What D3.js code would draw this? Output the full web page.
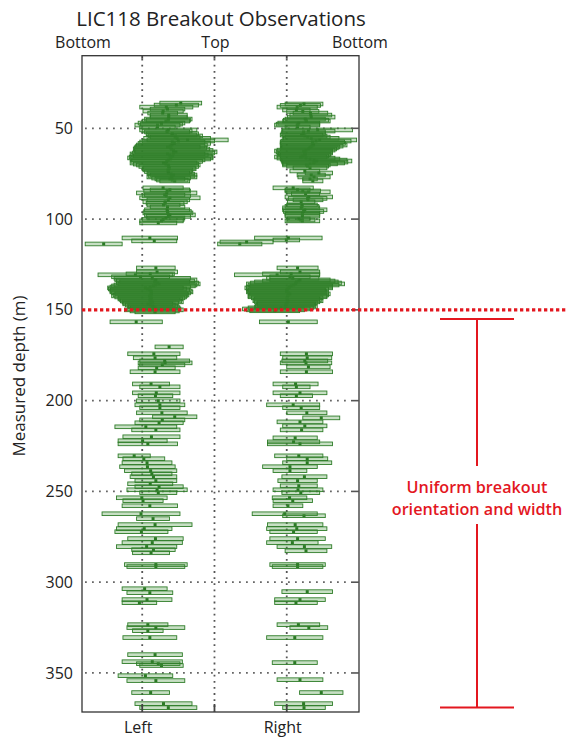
<!DOCTYPE html>
<html>
<head>
<meta charset="utf-8">
<script src="https://cdn.jsdelivr.net/npm/d3@7"></script>
<style>
  html, body { margin: 0; padding: 0; background: #fff; }
  svg { display: block; font-family: "Open Sans", "Noto Sans", sans-serif; }
</style>
</head>
<body>
<svg id="chart" width="566" height="738"></svg>
<script>
// Breakout picks: [depth (m), start azimuth (deg), end azimuth (deg)]
const leftBreakouts = [
  [36.1,112,164],[37.2,105,160],[38.3,87,153],[39.4,100,143],[40.5,91,141],[41.6,97,134],[42.7,100,146],
  [43.8,100,146],[44.9,93,152],[45.5,95,150],[46.0,90,149],[47.1,85,143],[47.7,88,140],[48.2,81,137],[49.3,87,131],
  [50.9,87,158],[51.5,90,152],[52.0,93,149],[53.0,95,160],[53.7,96,158],[54.2,98,165],[54.8,100,162],
  [55.5,92,175],[56.4,96,197],[57.0,90,180],[57.5,87,168],[58.3,85,175],[59.2,83,171],[59.8,82,168],
  [60.3,81,162],[60.8,80,170],[61.4,79,174],[62.2,80,178],[63.0,81,183],[63.6,78,180],[64.1,75,168],
  [64.7,76,172],[65.2,79,177],[65.8,74,178],[66.3,72,178],[66.9,75,175],[67.4,77,168],[68.2,76,165],
  [69.1,75,158],[69.7,79,160],[70.2,83,162],[71.0,86,160],[71.8,91,156],[72.3,90,157],[72.9,91,153],
  [73.8,93,152],[74.6,96,149],[75.2,97,155],[75.7,100,158],[76.3,98,155],[76.8,96,158],[77.4,102,150],
  [77.9,106,143],[78.5,108,147],[79.0,112,149],
  [82.8,91,141],[83.9,100,149],[84.5,92,150],[85.6,83,158],[86.7,93,143],[87.2,90,150],[88.3,87,162],
  [89.4,96,149],[90.5,91,146],[91.3,95,142],[92.2,96,137],[93.3,100,143],[94.9,93,149],[95.8,92,151],
  [96.6,91,153],[97.7,93,156],[98.5,95,150],[99.4,96,143],[100.2,90,142],[101.0,87,141],[102.1,87,133],
  [110.4,65,134],[112.0,77,133],[113.7,19,65],
  [126.9,83,131],[129.1,83,134],[130.2,70,130],[130.7,35,128],[131.8,52,124],[132.6,55,150],[133.5,56,158],
  [134.1,58,155],[134.6,62,149],[135.2,58,160],[135.7,60,162],[136.3,55,158],[136.8,52,156],[137.4,50,150],
  [137.9,47,141],[138.5,48,145],[139.0,50,149],[139.6,50,152],[140.1,50,153],[140.7,52,150],[141.2,56,147],
  [141.8,54,148],[142.3,52,146],[142.9,56,145],[143.4,60,143],[144.0,60,140],[144.5,62,137],[145.1,63,139],
  [145.6,65,141],[146.2,66,135],[146.7,66,128],[147.3,69,131],[147.8,72,134],[148.4,73,136],[148.9,75,137],
  [149.5,72,138],[150.0,68,141],[150.6,75,136],[151.1,81,131],[156.6,50,115],
  [170.4,106,141],[174.2,72,137],[176.4,79,133],[178.1,87,149],[179.2,85,152],[180.3,87,143],
  [181.9,85,131],[184.1,75,137],[190.8,78,124],[192.4,87,137],[195.7,78,137],[197.3,85,128],
  [200.1,83,137],[202.3,81,143],[203.9,87,137],[206.7,83,146],[208.9,103,158],[210.6,87,143],
  [212.2,81,141],[214.4,56,133],[216.1,77,137],[219.9,66,137],[222.1,60,121],[223.8,60,134],
  [230.4,60,100],[232.0,66,118],[234.2,65,127],[236.4,62,131],[238.6,68,133],[240.3,77,127],
  [241.9,75,133],[244.1,81,133],[245.8,72,128],[247.4,81,141],[249.1,71,146],[250.7,87,133],
  [253.5,58,121],[255.1,66,116],[257.9,65,134],[262.3,40,137],[265.0,83,124],[268.3,60,152],
  [270.5,58,127],[272.2,56,122],[276.0,72,141],[278.2,65,140],[280.4,58,133],[282.1,77,131],
  [283.8,78,124],[290.3,68,146],[291.4,71,143],
  [303.6,65,121],[305.8,71,128],[309.6,65,127],[311.3,65,108],[323.4,72,122],[325.0,71,143],
  [326.7,78,116],[330.5,66,133],[339.9,72,140],[343.8,65,140],[344.9,83,137],[345.9,87,141],
  [351.5,60,128],[354.2,71,143],[360.8,77,124],[366.9,81,152],[369.1,87,158]
];

const rightBreakouts = [
  [36.6,268,315],[37.4,262,312],[38.3,258,308],[39.9,265,299],[40.7,270,310],[41.6,278,321],[42.7,274,326],
  [43.8,271,330],[44.9,268,318],[45.5,266,322],[46.0,265,324],[47.1,259,311],[47.7,257,311],[48.2,255,311],
  [49.3,268,299],
  [50.9,265,352],[51.5,264,330],[52.0,264,318],[53.0,263,318],[53.7,262,315],[54.2,265,320],[54.8,268,324],
  [55.5,266,335],[56.4,265,357],[57.0,263,350],[57.5,262,342],[58.3,262,343],[59.2,262,345],[59.8,263,340],
  [60.3,264,336],[60.8,263,334],[61.4,262,332],[62.0,258,330],[62.5,255,327],[63.0,257,327],[63.6,259,327],
  [64.2,260,325],[64.7,262,324],[65.3,258,322],[65.8,255,320],[66.4,258,330],[66.9,262,336],[67.5,263,345],
  [68.0,264,351],[68.6,264,346],[69.1,265,342],[69.6,265,333],[70.2,265,324],[70.8,270,322],[71.8,278,320],
  [73.5,274,311],[74.6,293,327],[75.7,283,318],[76.8,284,324],[77.9,290,308],[79.0,290,315],
  [82.8,253,303],[83.9,268,299],[84.5,268,312],[85.0,270,324],[86.1,276,311],[87.8,268,327],[88.6,272,320],
  [89.4,278,315],[90.5,271,305],[92.2,270,308],[93.0,268,310],[93.8,265,311],[94.9,265,320],[95.8,266,316],
  [96.6,268,311],[97.4,268,311],[98.3,268,311],[99.9,271,299],[100.5,270,305],[101.0,268,311],
  [110.4,230,314],[111.5,253,286],[112.6,187,253],[113.7,184,239],
  [126.9,258,309],[129.1,262,311],[130.2,240,311],[130.7,205,311],[131.8,249,299],[132.6,245,310],
  [133.5,249,324],[134.1,240,330],[134.6,230,334],[135.2,225,338],[135.7,220,342],[136.3,222,335],
  [136.8,224,327],[137.4,220,327],[137.9,218,327],[138.5,220,322],[139.0,222,318],[139.6,221,319],
  [140.1,220,320],[140.7,222,322],[141.2,224,324],[141.8,223,322],[142.3,222,320],[142.8,222,320],
  [143.4,226,315],[143.9,230,311],[144.5,229,313],[145.0,228,315],[145.6,230,311],[146.1,233,308],
  [146.7,233,306],[147.2,233,305],[147.8,231,306],[148.4,230,308],[148.9,222,303],[149.5,215,299],
  [150.0,220,292],[150.5,224,286],[156.6,236,308],
  [174.2,262,327],[176.4,265,326],[178.1,264,321],[179.2,262,326],[181.4,270,324],[184.1,262,327],
  [190.8,253,309],[192.4,265,299],[195.7,253,320],[197.3,262,302],[202.3,245,311],[203.9,265,311],
  [206.7,270,320],[209.5,290,336],[211.7,258,315],[213.9,265,320],[216.1,262,315],[220.5,253,308],
  [222.7,246,311],[223.8,246,327],
  [230.4,255,315],[232.0,270,321],[234.2,265,326],[236.4,240,308],[238.6,253,295],[241.9,264,320],
  [244.1,259,308],[246.9,262,308],[249.1,253,315],[250.7,264,311],[253.5,252,295],[255.1,253,302],
  [257.9,253,290],[262.3,227,308],[263.4,265,318],[268.3,246,315],[270.5,245,320],[272.2,249,308],
  [276.0,249,318],[278.2,245,309],[280.4,258,326],[282.7,268,320],[290.3,249,318],[291.4,252,315],
  [305.2,264,327],[309.6,255,318],[311.3,255,308],[323.4,258,311],[325.0,274,321],[330.5,245,315],
  [344.3,252,308],[353.7,258,315],[360.8,286,340],[366.9,255,327],[369.1,265,318]
];

// Axis definitions
const depthDomain = [10, 371.5];
const depthTicks = [50, 100, 150, 200, 250, 300, 350];
const azimuthDomain = [15, 360];
const azimuthTicks = [90, 180, 270];
const topLabels = [[15, "Bottom"], [180, "Top"], [360, "Bottom"]];
const bottomLabels = [[90, "Left"], [270, "Right"]];

// Annotation: depth of the boundary line and the bracketed interval
const boundaryDepth = 150;
const uniformInterval = [155, 369];
const uniformText = ["Uniform breakout", "orientation and width"];

const svg = d3.select("#chart");
const M = { left: 82, right: 359, top: 55.7, bottom: 712 };

const x = d3.scaleLinear().domain(azimuthDomain).range([M.left, M.right]);
const y = d3.scaleLinear().domain(depthDomain).range([M.top, M.bottom]);

// Title
svg.append("text")
  .attr("x", 221).attr("y", 25.5)
  .attr("text-anchor", "middle")
  .attr("font-size", 20.5)
  .attr("fill", "#222")
  .text("LIC118 Breakout Observations");

// Top orientation labels
svg.append("g").selectAll("text").data(topLabels).join("text")
  .attr("x", d => x(d[0]) + 1)
  .attr("y", 47.5)
  .attr("text-anchor", "middle")
  .attr("font-size", 16)
  .attr("fill", "#222")
  .text(d => d[1]);

// Bottom side labels
svg.append("g").selectAll("text").data(bottomLabels).join("text")
  .attr("x", d => x(d[0]) - 4)
  .attr("y", 733)
  .attr("text-anchor", "middle")
  .attr("font-size", 16)
  .attr("fill", "#222")
  .text(d => d[1]);

// Y axis label
svg.append("text")
  .attr("transform", "translate(25,376) rotate(-90)")
  .attr("text-anchor", "middle")
  .attr("font-size", 17)
  .attr("fill", "#222")
  .text("Measured depth (m)");

// Depth tick labels via d3 axis
const yAxis = svg.append("g")
  .attr("transform", `translate(${M.left},0)`)
  .call(d3.axisLeft(y).tickValues(depthTicks).tickSize(0).tickPadding(9));
yAxis.select(".domain").remove();
yAxis.selectAll("text")
  .attr("font-family", "'Open Sans', sans-serif")
  .attr("font-size", 16)
  .attr("fill", "#222");

// Dotted grid
const grid = svg.append("g");
grid.selectAll("line.h").data(depthTicks.filter(d => d !== boundaryDepth)).join("line")
  .attr("class", "h")
  .attr("x1", M.left + 3).attr("x2", M.right - 9)
  .attr("y1", d => y(d)).attr("y2", d => y(d))
  .attr("stroke", "#666").attr("stroke-width", 1.8)
  .attr("stroke-dasharray", "1.8 5.2");
grid.selectAll("line.v").data(azimuthTicks).join("line")
  .attr("class", "v")
  .attr("x1", d => x(d)).attr("x2", d => x(d))
  .attr("y1", M.top + 3).attr("y2", M.bottom)
  .attr("stroke", "#555").attr("stroke-width", 1.8)
  .attr("stroke-dasharray", "1.8 4.3");

// Breakout bars (centre marks first, so dense stacks cover them)
svg.append("clipPath").attr("id", "plotclip")
  .append("rect")
  .attr("x", M.left).attr("y", M.top)
  .attr("width", M.right - M.left).attr("height", M.bottom - M.top);

const halfH = 1.0;
const bars = svg.append("g").attr("clip-path", "url(#plotclip)");
const all = leftBreakouts.concat(rightBreakouts);
bars.selectAll("rect.mk").data(all).join("rect")
  .attr("class", "mk")
  .attr("x", d => x((d[1] + d[2]) / 2) - 1.5)
  .attr("y", d => y(d[0]) - 1.5)
  .attr("width", 3)
  .attr("height", 3)
  .attr("fill", "#1f6e1a");
bars.selectAll("rect.bo").data(all).join("rect")
  .attr("class", "bo")
  .attr("x", d => x(d[1]))
  .attr("y", d => y(d[0] - halfH))
  .attr("width", d => x(d[2]) - x(d[1]))
  .attr("height", d => y(d[0] + halfH) - y(d[0] - halfH))
  .attr("fill", "rgba(70,150,60,0.3)")
  .attr("stroke", "#2f7d29")
  .attr("stroke-width", 0.9);

// Frame
svg.append("rect")
  .attr("x", M.left).attr("y", M.top)
  .attr("width", M.right - M.left).attr("height", M.bottom - M.top)
  .attr("fill", "none").attr("stroke", "#333").attr("stroke-width", 1.3);

// Inward ticks on the right, bottom and top edges
svg.append("g").selectAll("line").data(depthTicks).join("line")
  .attr("x1", M.right - 8).attr("x2", M.right)
  .attr("y1", d => y(d)).attr("y2", d => y(d))
  .attr("stroke", "#555").attr("stroke-width", 1.6);
svg.append("g").selectAll("line").data(azimuthTicks).join("line")
  .attr("x1", d => x(d)).attr("x2", d => x(d))
  .attr("y1", M.bottom - 8).attr("y2", M.bottom)
  .attr("stroke", "#444").attr("stroke-width", 1.8);
svg.append("g").selectAll("line").data(azimuthTicks).join("line")
  .attr("x1", d => x(d)).attr("x2", d => x(d))
  .attr("y1", M.top).attr("y2", M.top + 3)
  .attr("stroke", "#444").attr("stroke-width", 1.8);

// Boundary line at 150 m
const red = "#e3171f";
svg.append("line")
  .attr("x1", M.left).attr("x2", 566)
  .attr("y1", y(boundaryDepth)).attr("y2", y(boundaryDepth))
  .attr("stroke", red).attr("stroke-width", 3.4)
  .attr("stroke-dasharray", "3.3 2.7");

// Bracket for the uniform interval
const bx = 477, capW = 37;
const yTop = y(uniformInterval[0]), yBot = y(uniformInterval[1]);
const br = svg.append("g").attr("stroke", red).attr("stroke-width", 2);
br.append("line").attr("x1", bx - capW).attr("x2", bx + capW).attr("y1", yTop).attr("y2", yTop);
br.append("line").attr("x1", bx - capW).attr("x2", bx + capW).attr("y1", yBot).attr("y2", yBot);
br.append("line").attr("x1", bx).attr("x2", bx).attr("y1", yTop).attr("y2", 466);
br.append("line").attr("x1", bx).attr("x2", bx).attr("y1", 524).attr("y2", yBot);

svg.append("g").selectAll("text").data(uniformText).join("text")
  .attr("x", bx)
  .attr("y", (d, i) => 493 + i * 22)
  .attr("text-anchor", "middle")
  .attr("font-size", 16.2)
  .attr("font-weight", 600)
  .attr("fill", red)
  .text(d => d);
</script>
</body>
</html>
